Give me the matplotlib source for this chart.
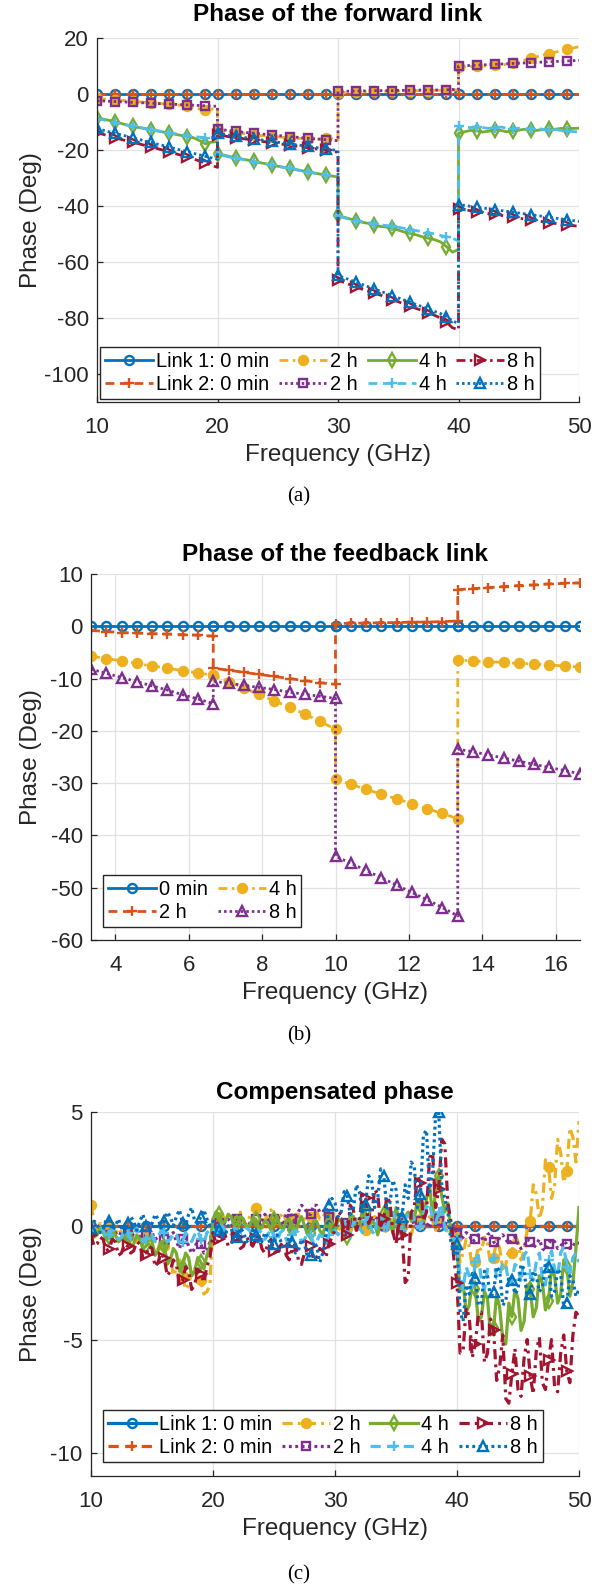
import numpy as np
import matplotlib.pyplot as plt

plt.rcParams['font.family'] = ['Liberation Sans', 'DejaVu Sans']
plt.rcParams['axes.unicode_minus'] = False

BLUE, ORANGE, YELLOW = '#0072BD', '#D95319', '#EDB120'
PURPLE, GREEN, CYAN, RED = '#7E2F8E', '#77AC30', '#4DBEEE', '#A2142F'
INK = '#262626'

# ---------------- (a) forward link, 10 GHz bands at 0.5 GHz steps ----------------
bands_a = [(10, 20), (20, 30), (30, 40), (40, 50)]
fwd_l1_0min = [[0.0] * 21] * 4
fwd_l2_0min = [[0.0] * 21] * 4
fwd_l1_2h = [
    [-1.6, -1.8, -2.0, -2.1, -2.3, -2.4, -2.6, -2.8, -3.0, -3.1, -3.3, -3.5, -3.7, -3.9, -4.0, -4.3, -4.8, -5.3, -5.7, -5.4, -5.2],
    [-13.0, -13.3, -13.6, -13.9, -14.1, -14.3, -14.6, -14.8, -15.0, -15.2, -15.3, -15.5, -15.6, -15.8, -15.9, -16.0, -16.1, -16.2, -15.6, -16.0, -16.5],
    [0.3, 0.5, 0.6, 0.7, 0.8, 0.8, 0.9, 0.9, 1.0, 1.0, 1.0, 1.1, 1.1, 1.2, 1.2, 1.2, 1.3, 1.3, 1.4, 1.4, 1.5],
    [9.5, 9.7, 9.8, 9.9, 10.0, 10.1, 10.2, 10.3, 10.6, 11.0, 11.5, 12.1, 12.7, 13.3, 13.9, 14.4, 14.9, 15.4, 15.9, 16.4, 16.9],
]
fwd_l2_2h = [
    [-2.4, -2.5, -2.6, -2.7, -2.8, -2.9, -3.0, -3.1, -3.2, -3.3, -3.4, -3.5, -3.6, -3.7, -3.8, -3.9, -4.0, -4.1, -4.2, -4.3, -4.4],
    [-12.5, -12.8, -13.1, -13.3, -13.6, -13.8, -14.0, -14.2, -14.4, -14.6, -14.8, -15.0, -15.2, -15.4, -15.6, -15.8, -16.0, -16.1, -16.3, -16.5, -16.7],
    [0.9, 1.0, 1.0, 1.1, 1.1, 1.1, 1.2, 1.2, 1.2, 1.2, 1.3, 1.3, 1.3, 1.4, 1.4, 1.4, 1.4, 1.5, 1.5, 1.6, 1.6],
    [10.0, 10.1, 10.2, 10.3, 10.4, 10.5, 10.6, 10.7, 10.8, 10.9, 11.0, 11.1, 11.2, 11.3, 11.4, 11.5, 11.6, 11.7, 11.8, 11.9, 12.0],
]
fwd_l1_4h = [
    [-8.5, -9.0, -9.4, -10.0, -10.5, -11.1, -11.6, -12.0, -12.4, -12.8, -13.2, -13.6, -14.0, -14.4, -14.8, -15.2, -15.6, -16.6, -17.8, -17.2, -17.0],
    [-21.3, -21.8, -22.3, -22.8, -23.2, -23.6, -24.1, -24.5, -24.9, -25.4, -25.8, -26.2, -26.6, -27.0, -27.4, -27.8, -28.2, -28.6, -29.0, -29.3, -29.6],
    [-43.3, -44.0, -44.6, -45.3, -45.8, -46.2, -46.8, -47.3, -47.5, -48.0, -48.6, -49.3, -49.8, -50.3, -51.0, -51.5, -52.0, -52.8, -54.5, -56.5, -55.5],
    [-14.0, -13.5, -13.0, -13.2, -13.6, -13.3, -12.8, -13.0, -13.5, -13.2, -12.9, -12.6, -12.8, -13.0, -12.7, -12.5, -12.6, -12.3, -12.5, -12.3, -12.2],
]
fwd_l2_4h = [
    [-8.8, -9.2, -9.7, -10.2, -10.7, -11.1, -11.5, -11.9, -12.3, -12.7, -13.1, -13.5, -13.9, -14.2, -14.6, -14.9, -15.2, -15.4, -15.6, -15.5, -15.4],
    [-21.5, -22.0, -22.5, -22.9, -23.3, -23.8, -24.2, -24.6, -25.0, -25.4, -25.8, -26.2, -26.6, -27.0, -27.4, -27.8, -28.2, -28.6, -28.9, -29.2, -29.5],
    [-43.5, -44.2, -44.8, -45.2, -45.6, -46.0, -46.3, -46.6, -47.0, -47.3, -47.6, -48.0, -48.4, -48.8, -49.2, -49.6, -50.0, -50.5, -51.0, -51.5, -52.5],
    [-11.5, -11.8, -12.0, -11.7, -12.0, -12.3, -12.0, -11.8, -12.2, -12.5, -12.2, -12.4, -12.6, -12.3, -12.6, -12.9, -12.7, -13.0, -13.2, -13.4, -13.6],
]
fwd_l1_8h = [
    [-13.8, -14.4, -15.0, -15.6, -16.2, -16.8, -17.3, -17.8, -18.4, -18.9, -19.5, -20.1, -20.7, -21.3, -21.9, -22.5, -23.2, -23.9, -24.7, -25.5, -26.2],
    [-14.5, -14.9, -15.3, -15.6, -15.9, -16.2, -16.5, -16.8, -17.1, -17.4, -17.7, -18.0, -18.3, -18.6, -18.9, -19.2, -19.5, -19.8, -20.1, -20.4, -20.8],
    [-66.5, -67.3, -68.1, -68.9, -69.7, -70.4, -71.1, -71.8, -72.6, -73.4, -74.2, -75.0, -75.8, -76.6, -77.4, -78.2, -79.0, -80.0, -81.5, -83.5, -84.2],
    [-41.0, -41.3, -41.7, -42.0, -42.3, -42.7, -43.0, -43.3, -43.7, -44.0, -44.3, -44.7, -45.0, -45.3, -45.6, -45.9, -46.2, -46.5, -46.8, -47.0, -47.3],
]
fwd_l2_8h = [
    [-12.3, -12.9, -13.5, -14.0, -14.6, -15.1, -15.7, -16.2, -16.8, -17.3, -17.9, -18.4, -19.0, -19.5, -20.1, -20.6, -21.2, -21.7, -22.3, -22.8, -23.3],
    [-14.0, -14.4, -14.8, -15.1, -15.4, -15.7, -16.0, -16.3, -16.6, -16.9, -17.2, -17.5, -17.8, -18.1, -18.4, -18.7, -19.0, -19.3, -19.6, -19.9, -20.2],
    [-64.8, -65.6, -66.4, -67.2, -68.0, -68.8, -69.6, -70.4, -71.2, -72.0, -72.8, -73.6, -74.4, -75.2, -76.0, -76.8, -77.6, -78.4, -79.5, -81.0, -82.0],
    [-39.5, -39.8, -40.1, -40.4, -40.7, -41.0, -41.3, -41.6, -41.9, -42.2, -42.5, -42.8, -43.1, -43.4, -43.7, -44.0, -44.3, -44.6, -44.9, -45.2, -45.5],
]

# ---------------- (b) feedback link, bands of 10/3 GHz ----------------
bands_b = [(10 / 3, 20 / 3), (20 / 3, 10), (10, 40 / 3), (40 / 3, 50 / 3)]
fb_0min = [[0.0] * 9] * 4
fb_2h = [
    [-0.8, -1.0, -1.2, -1.3, -1.4, -1.5, -1.6, -1.7, -1.9],
    [-8.0, -8.4, -8.8, -9.2, -9.6, -10.0, -10.4, -10.8, -11.1],
    [0.5, 0.6, 0.6, 0.7, 0.7, 0.8, 0.8, 0.9, 1.0],
    [7.0, 7.2, 7.4, 7.6, 7.8, 7.9, 8.1, 8.2, 8.3],
]
fb_4h = [
    [-5.7, -6.2, -6.6, -7.1, -7.6, -8.0, -8.5, -8.9, -9.4],
    [-9.4, -10.6, -11.8, -13.0, -14.3, -15.5, -16.8, -18.2, -19.7],
    [-29.3, -30.2, -31.2, -32.1, -33.0, -33.9, -34.9, -35.8, -36.8],
    [-6.5, -6.6, -6.8, -6.9, -7.1, -7.2, -7.4, -7.6, -7.8],
]
fb_8h = [
    [-8.2, -9.0, -9.8, -10.6, -11.4, -12.2, -13.1, -13.9, -14.8],
    [-10.5, -10.9, -11.3, -11.7, -12.1, -12.6, -13.0, -13.4, -13.8],
    [-44.0, -45.3, -46.7, -48.1, -49.5, -50.9, -52.3, -53.8, -55.4],
    [-23.5, -24.0, -24.6, -25.2, -25.8, -26.4, -27.0, -27.6, -28.2],
]

# ---------------- (c) compensated phase, 10..50 GHz at 0.25 GHz ----------------
comp_l1_0min = [0.0] * 161
comp_l2_0min = [0.0] * 161
comp_l1_2h = [
    0.9, 0.2, -0.2, 0.1, -0.3, -0.5, -0.1, 0.1, -0.4, -0.1, -0.3, -0.6, -0.5, -0.2, -0.4, -0.7, -0.6, -0.3, -0.5, -0.9,
    -0.8, -1.2, -1.0, -0.6, -0.9, -1.6, -1.4, -2.2, -1.9, -1.5, -2.2, -2.8, -2.6, -2.0, -1.8, -2.5, -2.4, -3.0, -2.9, -2.6,
    0.3, 0.6, 0.4, 0.1, 0.2, 0.5, 0.5, 0.2, 0.3, 0.6, 0.2, 0.0, 0.4, 0.7, 0.8, 0.4, 0.5, 0.2, 0.5, 0.7,
    0.3, 0.1, 0.4, 0.6, 0.2, 0.0, 0.3, 0.5, 0.5, 0.2, 0.3, 0.6, 0.4, 0.1, 0.6, 0.3, 0.3, 0.7, 0.5, 0.2,
    0.1, -0.2, 0.0, 0.3, -0.1, -0.3, 0.2, 0.4, 0.0, -0.3, -0.2, 0.2, 0.1, 0.4, 0.3, -0.1, 0.0, -0.3, -0.1, 0.3,
    0.2, -0.1, 0.0, 0.3, -0.2, -0.4, 0.1, 0.3, 0.3, -0.1, -0.1, 0.4, 0.2, -0.2, 0.4, 0.6, 0.0, -0.3, -0.5, -0.2,
    -0.5, -1.6, -1.2, -0.6, -0.9, -1.8, -1.6, -0.9, -1.1, -0.5, -0.8, -1.7, -1.4, -0.6, -1.0, -1.9, -1.7, -1.0, -1.2, -0.4,
    -0.7, -1.5, -1.1, -0.2, 0.2, 1.8, 1.4, 0.3, 0.8, 2.9, 2.6, 1.2, 1.8, 3.8, 3.2, 1.9, 2.4, 4.3, 3.9, 2.8, 4.6]
comp_l2_2h = [
    -0.2, -0.4, -0.3, -0.1, -0.2, -0.5, -0.4, -0.2, -0.3, -0.6, -0.2, -0.1, -0.4, -0.6, -0.3, -0.2, -0.5, -0.7, -0.4, -0.2,
    -0.3, -0.6, -0.5, -0.3, -0.6, -0.9, -0.4, -0.3, -0.7, -1.0, -0.6, -0.5, -0.9, -1.2, -1.0, -0.6, -0.8, -1.2, -1.1, -0.7,
    0.0, 0.2, 0.1, -0.1, 0.2, 0.3, 0.1, -0.1, 0.3, 0.4, 0.2, 0.0, 0.1, 0.3, 0.3, 0.1, 0.2, 0.5, 0.3, 0.1,
    0.3, 0.5, 0.2, 0.0, 0.5, 0.7, 0.3, 0.2, 0.6, 0.9, 0.8, 0.5, 0.5, 0.9, 0.9, 0.6, 0.6, 0.8, 0.4, 0.2,
    0.2, 0.4, 0.3, 0.0, 0.1, 0.5, 0.4, 0.1, 0.2, 0.6, 0.5, 0.2, 0.1, 0.4, 0.3, 0.0, 0.0, 0.3, 0.2, -0.1,
    0.4, 0.5, 0.1, 0.0, 0.3, 0.4, 0.0, -0.1, 0.2, 0.3, 0.1, -0.1, 0.4, 0.5, 0.2, 0.0, 0.0, 0.3, 0.1, -0.1,
    -0.3, -0.6, -0.5, -0.3, -0.4, -0.7, -0.6, -0.4, -0.5, -0.7, -0.4, -0.3, -0.7, -0.9, -0.5, -0.4, -0.6, -0.8, -0.6, -0.5,
    -0.8, -1.0, -0.9, -0.6, -0.7, -1.0, -0.8, -0.6, -1.0, -1.1, -0.8, -0.6, -0.7, -1.0, -0.9, -0.7, -0.8, -1.0, -0.9, -0.7, -0.8]
comp_l1_4h = [
    -0.2, -0.5, -0.4, -0.1, -0.3, -0.6, -0.5, -0.2, -0.4, -0.7, -0.6, -0.3, -0.5, -0.9, -0.8, -0.4, -0.6, -1.0, -0.9, -0.5,
    -0.7, -1.3, -1.1, -0.7, -0.9, -1.7, -1.5, -1.0, -1.2, -2.0, -1.8, -1.2, -1.4, -2.2, -2.0, -1.4, -1.6, -1.9, -1.3, -0.9,
    0.3, 0.6, 0.5, 0.1, 0.2, 0.5, 0.4, 0.0, 0.1, 0.4, 0.3, -0.1, 0.0, 0.3, 0.3, -0.1, -0.1, 0.2, 0.1, -0.2,
    0.3, 0.4, 0.0, -0.2, 0.2, 0.3, -0.2, -0.3, 0.1, 0.4, 0.0, -0.4, -0.3, 0.2, 0.2, -0.2, -0.4, 0.1, 0.1, -0.3,
    -0.3, 0.3, 0.2, -0.4, -0.5, 0.5, 0.4, -0.2, -0.1, 0.7, 0.6, -0.1, 0.2, 0.1, -0.4, 0.2, 0.5, 0.8, 0.1, -0.3,
    0.8, 0.3, -0.2, 0.4, 0.6, 0.2, 0.3, 1.1, 0.9, 0.2, 1.2, 1.8, 0.4, 1.5, 2.2, 1.3, 0.6, 1.0, -0.3, -0.8,
    -1.0, -2.9, -2.5, -3.8, -3.5, -2.4, -2.8, -4.2, -4.0, -2.9, -3.2, -4.8, -4.5, -3.0, -3.6, -5.0, -5.2, -3.4, -4.0, -2.8,
    -3.2, -4.6, -4.2, -2.6, -2.8, -4.0, -3.6, -2.2, -2.5, -3.7, -3.3, -1.9, -2.2, -3.4, -3.0, -1.5, -1.8, -3.1, -2.5, -1.0, 0.8]
comp_l2_4h = [
    -0.1, -0.4, -0.3, -0.1, -0.2, -0.5, -0.4, -0.1, -0.3, -0.6, -0.5, -0.2, -0.3, -0.6, -0.4, -0.1, -0.4, -0.7, -0.6, -0.3,
    -0.4, -0.7, -0.5, -0.2, -0.3, -0.7, -0.6, -0.3, -0.4, -0.8, -0.7, -0.3, -0.5, -0.7, -0.4, -0.2, -0.6, -0.8, -0.3, -0.2,
    -0.1, -0.4, -0.3, 0.0, -0.2, -0.5, -0.4, -0.1, -0.3, -0.6, -0.3, -0.1, -0.2, -0.5, -0.5, -0.2, -0.3, -0.6, -0.4, -0.1,
    -0.5, -0.7, -0.3, -0.2, -0.6, -0.8, -0.4, -0.2, -0.3, -0.7, -0.6, -0.3, -0.4, -0.8, -0.7, -0.4, -0.5, -0.8, -0.4, -0.2,
    -0.2, -0.4, 0.0, 0.2, -0.3, -0.5, 0.1, 0.3, -0.1, -0.3, 0.2, 0.4, -0.2, -0.4, 0.3, 0.5, 0.0, -0.2, 0.4, 0.6,
    0.1, -0.2, -0.2, 0.3, 0.5, 0.7, 0.2, -0.1, 0.0, 0.5, 0.8, 1.0, 0.3, 0.1, 0.6, 0.8, -0.1, -0.4, -0.4, -0.6,
    -0.6, -2.2, -2.8, -1.8, -2.2, -2.7, -1.6, -1.3, -2.4, -2.8, -1.9, -1.5, -1.4, -2.3, -2.2, -1.6, -1.7, -2.6, -2.4, -1.7,
    -1.8, -2.5, -1.3, -1.1, -2.1, -2.4, -1.6, -1.2, -2.3, -2.6, -1.5, -1.1, -1.9, -2.2, -1.2, -0.9, -1.8, -2.1, -1.4, -1.2, -1.6]
comp_l1_8h = [
    -0.4, -0.9, -0.8, -0.5, -0.6, -1.1, -1.0, -0.6, -0.7, -1.3, -1.2, -0.8, -0.9, -1.2, -1.1, -0.7, -0.8, -1.4, -1.3, -0.9,
    -1.0, -1.8, -1.6, -1.2, -1.4, -2.2, -2.0, -1.5, -1.7, -2.6, -2.4, -1.8, -2.0, -2.8, -2.6, -1.9, -2.1, -2.5, -1.8, -1.4,
    -0.3, -0.8, -0.6, -0.3, -0.4, -0.9, -0.8, -0.4, -0.5, -1.0, -0.9, -0.5, -0.7, -0.9, -0.6, -0.4, -1.0, -1.2, -0.8, -0.6,
    -1.1, -1.3, -0.9, -0.7, -1.3, -1.5, -1.0, -0.8, -1.5, -1.7, -1.2, -1.0, -0.9, -1.5, -1.4, -1.0, -1.1, -1.4, -0.8, -0.5,
    -0.2, 0.6, 0.5, -0.4, -0.4, 0.9, 0.7, -0.2, 0.2, 1.4, 1.2, 0.1, 0.4, 1.6, 1.4, 0.0, 0.3, 1.3, 1.0, -0.3,
    -0.8, 0.2, -0.4, -2.5, -2.3, 0.6, 0.8, 2.2, 1.9, 0.2, 0.6, 3.0, 3.2, 0.8, 1.6, 3.8, 3.6, 1.0, 0.2, -1.5,
    -2.5, -5.6, -5.5, -3.6, -4.0, -5.8, -5.2, -3.9, -3.8, -6.0, -5.6, -4.1, -4.6, -6.8, -6.2, -4.8, -7.6, -7.8, -6.5, -5.4,
    -7.2, -7.5, -5.8, -5.0, -6.6, -7.4, -5.5, -4.9, -6.9, -7.2, -5.9, -5.0, -7.1, -7.3, -5.6, -4.8, -6.4, -6.9, -4.8, -3.8, -4.0]
comp_l2_8h = [
    -0.1, 0.2, 0.1, -0.3, -0.2, 0.3, 0.2, -0.2, 0.0, 0.3, -0.1, -0.3, 0.1, 0.4, 0.2, -0.2, 0.2, 0.5, 0.0, -0.1,
    0.1, 0.5, 0.3, -0.1, 0.2, 0.6, 0.4, 0.0, 0.4, 0.7, 0.1, 0.0, 0.5, 0.8, 0.2, 0.1, 0.4, 0.7, 0.3, 0.0,
    0.2, -0.1, -0.2, -0.5, -0.4, 0.0, -0.1, -0.6, -0.5, -0.1, -0.3, -0.7, -0.6, -0.2, -0.4, -0.8, -0.7, -0.3, -0.5, -0.9,
    -0.8, -0.4, -0.6, -1.0, -0.9, -0.5, -0.7, -1.2, -1.1, -0.6, -0.8, -1.4, -1.3, -0.7, -0.9, -1.6, -1.2, -0.4, 0.9, 1.2,
    1.0, 0.4, 0.6, 1.5, 1.3, 0.5, 0.7, 1.8, 1.5, 0.6, 0.9, 2.2, 2.0, 0.8, 1.2, 2.5, 2.2, 0.7, 1.0, 2.0,
    1.6, 0.2, 0.4, 1.8, 1.2, 2.8, 2.6, 0.8, 1.4, 4.0, 4.2, 1.5, 2.4, 4.9, 5.0, 1.8, 1.2, 0.6, -0.7, -1.2,
    -0.8, -3.8, -4.2, -2.6, -3.0, -2.1, -2.3, -3.5, -3.4, -2.0, -2.2, -3.2, -2.9, -1.8, -2.0, -3.5, -3.3, -2.2, -2.4, -3.0,
    -2.8, -1.7, -1.9, -3.2, -3.0, -2.0, -2.2, -2.9, -2.7, -1.6, -1.8, -3.1, -2.9, -1.9, -2.1, -3.6, -3.4, -2.2, -2.4, -3.1, -2.8]

link_labels = ['Link 1: 0 min', 'Link 2: 0 min', '2 h', '2 h', '4 h', '4 h', '8 h', '8 h']
fb_labels = ['0 min', '2 h', '4 h', '8 h']

DASH = (0, (3.2, 2.0))
DOT = (0, (0.9, 1.1))
DASHDOT = (0, (3.2, 1.6, 0.9, 1.6))
# colour, linestyle, marker, face, size
link_styles = [
    (BLUE, '-', 'o', 'none', 6.5),
    (ORANGE, DASH, '+', ORANGE, 7.5),
    (YELLOW, DASHDOT, 'o', YELLOW, 6.5),
    (PURPLE, DOT, 's', 'none', 6.2),
    (GREEN, '-', 'd', 'none', 7.2),
    (CYAN, DASH, '+', CYAN, 7.5),
    (RED, DASHDOT, '>', 'none', 6.8),
    (BLUE, DOT, '^', 'none', 7.2),
]
fb_styles = [
    (BLUE, '-', 'o', 'none', 6.5),
    (ORANGE, DASH, '+', ORANGE, 7.5),
    (YELLOW, DASHDOT, 'o', YELLOW, 6.5),
    (PURPLE, DOT, '^', 'none', 7.2),
]


def draw(ax, x, series, styles, labels, every, lw=2):
    for y, (c, ls, m, fc, ms), lab in zip(series, styles, labels):
        ax.plot(x, y, color=c, ls=ls, lw=lw, marker=m, mfc=fc, mec=c, ms=ms,
                mew=1.7, markevery=every, label=lab)


def style_axes(ax, xlim, ylim, xticks, yticks, title, ylab_x, tpad=9):
    ax.set_xlim(xlim)
    ax.set_ylim(ylim)
    ax.set_xticks(xticks)
    ax.set_yticks(yticks)
    ax.grid(True, color='#e2e2e2', lw=0.9)
    ax.set_axisbelow(True)
    for s in ['top', 'right']:
        ax.spines[s].set_visible(False)
    for s in ['left', 'bottom']:
        ax.spines[s].set_color(INK)
        ax.spines[s].set_linewidth(0.9)
    ax.tick_params(direction='in', length=4, width=0.9, colors=INK, labelsize=16)
    ax.tick_params(axis='x', pad=11)
    ax.tick_params(axis='y', pad=6)
    ax.set_title(title, fontsize=17.5, fontweight='bold', pad=tpad)
    ax.set_xlabel('Frequency (GHz)', fontsize=17.5, color=INK)
    ax.set_ylabel('Phase (Deg)', fontsize=17.5, color=INK)
    ax.xaxis.set_label_coords(0.5, -0.145)
    ax.yaxis.set_label_coords(ylab_x, 0.5)
    ax.yaxis.label.set_va('center')
    ax.xaxis.label.set_va('center')


W, H = 598, 1585
fig = plt.figure(figsize=(W / 100, H / 100), dpi=100)

leg_kw = dict(fontsize=14.4, frameon=True, fancybox=False, framealpha=1,
              edgecolor=INK, borderpad=0.25, labelspacing=0.2, handlelength=2.4,
              handletextpad=0.15, columnspacing=0.5, borderaxespad=0)

# (a)
ax_a = fig.add_axes([97 / W, 1 - 402 / H, (579 - 97) / W, (402 - 38) / H])
x_a = np.concatenate([np.linspace(a, b, 21) for a, b in bands_a])
series_a = [np.concatenate(s) for s in [fwd_l1_0min, fwd_l2_0min, fwd_l1_2h, fwd_l2_2h,
                                        fwd_l1_4h, fwd_l2_4h, fwd_l1_8h, fwd_l2_8h]]
draw(ax_a, x_a, series_a, link_styles, link_labels, 3)
style_axes(ax_a, (10, 50), (-110, 20), [10, 20, 30, 40, 50], [20, 0, -20, -40, -60, -80, -100],
           'Phase of the forward link', (31 - 97) / 482, tpad=12)
ax_a.legend(ncol=4, loc='lower left', bbox_to_anchor=(0.006, 0.008), **leg_kw)
fig.text(0.5, 1 - 497 / H, '(a)', ha='center', va='center', fontsize=15, family='Liberation Serif')

# (b)
ax_b = fig.add_axes([91 / W, 1 - 940 / H, (580 - 91) / W, (940 - 574) / H])
x_b = np.concatenate([np.linspace(a, b, 9) for a, b in bands_b])
series_b = [np.concatenate(s) for s in [fb_0min, fb_2h, fb_4h, fb_8h]]
draw(ax_b, x_b, series_b, fb_styles, fb_labels, 1)
style_axes(ax_b, (10 / 3, 50 / 3), (-60, 10), [4, 6, 8, 10, 12, 14, 16], list(range(10, -61, -10)),
           'Phase of the feedback link', (31 - 91) / 489)
ax_b.legend(ncol=2, loc='lower left', bbox_to_anchor=(0.024, 0.036), **leg_kw)
fig.text(0.5, 1 - 1036 / H, '(b)', ha='center', va='center', fontsize=15, family='Liberation Serif')

# (c)
ax_c = fig.add_axes([91 / W, 1 - 1476 / H, (579 - 91) / W, (1476 - 1112) / H])
x_c = np.linspace(10, 50, 161)
series_c = [comp_l1_0min, comp_l2_0min, comp_l1_2h, comp_l2_2h,
            comp_l1_4h, comp_l2_4h, comp_l1_8h, comp_l2_8h]
draw(ax_c, x_c, series_c, link_styles, link_labels, 6, lw=2.3)
style_axes(ax_c, (10, 50), (-11, 5), [10, 20, 30, 40, 50], [5, 0, -5, -10],
           'Compensated phase', (31 - 91) / 488)
ax_c.legend(ncol=4, loc='lower left', bbox_to_anchor=(0.024, 0.038), **leg_kw)
fig.text(0.5, 1 - 1575 / H, '(c)', ha='center', va='center', fontsize=15, family='Liberation Serif')

fig.savefig('out.png', dpi=100)
